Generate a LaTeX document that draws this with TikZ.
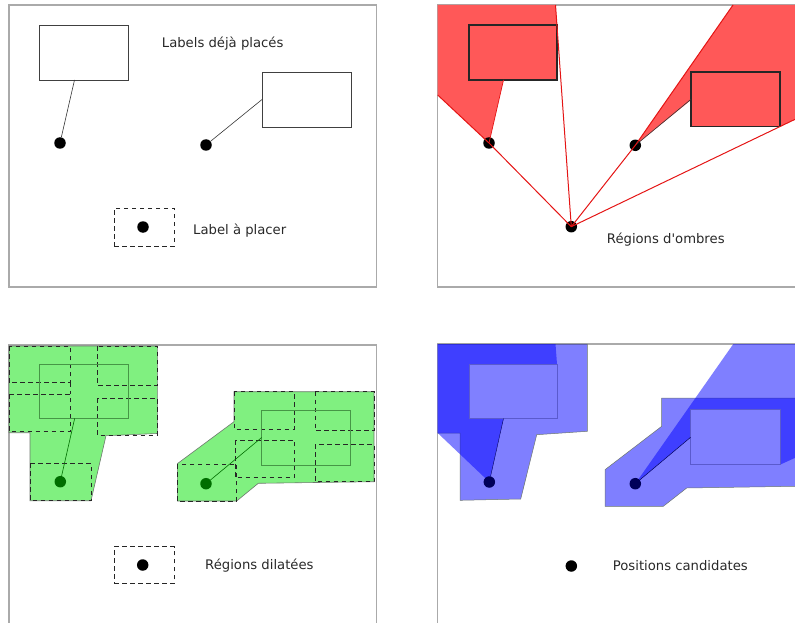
\documentclass[tikz,border=0pt]{standalone}
\usepackage{fontspec}
\setmainfont{DejaVu Sans}
\definecolor{shred}{RGB}{255,88,88}
\definecolor{rayred}{RGB}{228,20,20}
\definecolor{dilgreen}{RGB}{128,240,128}
\definecolor{dkgreen}{RGB}{0,110,0}
\definecolor{rectgreen}{RGB}{70,150,70}
\definecolor{lightblue}{RGB}{128,128,255}
\definecolor{rectblue}{RGB}{90,90,205}
\definecolor{navyd}{RGB}{0,0,90}
\definecolor{framegray}{RGB}{170,170,170}
\definecolor{txtgray}{RGB}{40,40,40}
\definecolor{edgegray}{RGB}{110,120,110}
\begin{document}
\begin{tikzpicture}[x=1pt,y=-1pt,
  frame/.style={draw=framegray, line width=1.1pt},
  boxnode/.style={rectangle, anchor=north west, inner sep=0pt, outer sep=0pt},
  plainrect/.style={boxnode, draw=black!75, line width=0.8pt, fill=white},
  redrect/.style={boxnode, draw=black!85, line width=1.3pt, fill=shred},
  greenrect/.style={boxnode, draw=rectgreen, line width=0.7pt},
  bluerect/.style={boxnode, draw=rectblue, line width=0.7pt, fill=lightblue},
  dashrect/.style={boxnode, draw=black!85, line width=1pt, dash pattern=on 4.5pt off 3.5pt},
  dashline/.style={draw=black!85, line width=1pt, dash pattern=on 4.5pt off 3.5pt},
  dotnode/.style={circle, inner sep=0pt, outer sep=0pt, minimum size=11.5pt, fill=#1},
  leader/.style={draw=black!80, line width=0.6pt},
  ray/.style={draw=rayred, line width=1pt},
  caption/.style={anchor=base west, inner sep=0pt, text=txtgray, font=\fontsize{13.2}{15}\selectfont},
  greenreg/.style={fill=dilgreen, draw=edgegray, line width=0.6pt},
  bluereg/.style={fill=blue, fill opacity=0.5, draw=none},
]
\useasboundingbox (0,0) rectangle (795,623);
\clip (0,0) rectangle (795,623);

% ---------------- Panel 1 ----------------
\draw[frame] (9,5) rectangle (376.7,287);
\node[plainrect, minimum width=89pt, minimum height=55pt] (a1) at (39.5,25) {};
\node[plainrect, minimum width=89pt, minimum height=55pt] (b1) at (262,72) {};
\node[dotnode=black] (d1a) at (60,143) {};
\node[dotnode=black] (d1b) at (206,145) {};
\coordinate (a1l) at (74.5,80);
\draw[leader] (a1l) -- (d1a);
\draw[leader] (b1.west) -- (d1b);
\node[dashrect, minimum width=60pt, minimum height=38pt] (n1) at (114,208) {};
\node[dotnode=black] (d1n) at (143,227) {};
\node[caption] (t1) at (161.7,48) {Labels déjà placés};
\node[caption] (t2) at (193,234.8) {Label à placer};

% ---------------- Panel 2 ----------------
\draw[frame] (437.7,5) rectangle (812,287);
\fill[shred] (437.7,5) -- (555.5,5) -- (557,25) -- (557,80) -- (503.5,80) -- (489,143) -- (437.7,95) -- cycle;
\fill[shred] (733,5) -- (812,5) -- (812,111.2) -- (780,126.5) -- (691,126.5) -- (691,100) -- (635.3,145.3) -- cycle;
\node[redrect, minimum width=88pt, minimum height=55pt] (a2) at (469,25) {};
\node[redrect, minimum width=89pt, minimum height=54.5pt] (b2) at (691,72) {};
\node[dotnode=black] (d2a) at (489,143) {};
\node[dotnode=black] (d2b) at (635.3,145.3) {};
\node[dotnode=black] (d2p) at (571.3,226.7) {};
\coordinate (e2a) at (437.7,95);
\coordinate (e2b) at (555.5,5);
\coordinate (e2c) at (733,5);
\coordinate (e2d) at (812,111.2);
\coordinate (a2l) at (503.5,80);
\draw[ray, line width=0.7pt] (a2l) -- (d2a.center);
\draw[leader] (b2.west) -- (d2b.center);
\draw[ray] (d2p.center) -- (d2a.center) -- (e2a);
\draw[ray] (d2p.center) -- (e2b);
\draw[ray] (d2p.center) -- (d2b.center) -- (e2c);
\draw[ray] (d2p.center) -- (e2d);
\node[caption] (t3) at (606.7,243.8) {Régions d\textquotesingle ombres};

% ---------------- Panel 3 ----------------
\draw[frame] (9,345) rectangle (376.7,640);
\draw[greenreg] (9,346) -- (157.3,346) -- (157.3,433.5) -- (106,435.7) -- (91,500.7) -- (30,500.7) -- (30,432.7) -- (9,432.7) -- cycle;
\draw[greenreg] (234,391.7) -- (374,391.7) -- (374,481.7) -- (258.3,483.3) -- (236.7,501) -- (177.3,501) -- (177.3,463.7) -- (234,421.7) -- cycle;
% dashed label positions, region 1
\draw[dashline] (9,346) rectangle (70,382.7);
\draw[dashline] (9,394.3) rectangle (70,431.7);
\draw[dashline] (70,382.7) -- (70,394.3);
\draw[dashline] (97.3,346) rectangle (157.3,385);
\draw[dashline] (97.3,398.3) rectangle (157.3,435);
\draw[dashline] (30,463.3) rectangle (91,500.7);
% dashed label positions, region 2
\draw[dashline] (234,391.7) rectangle (294.3,429);
\draw[dashline] (235,440) rectangle (294.3,477.5);
\draw[dashline] (315,391.7) rectangle (374,430.7);
\draw[dashline] (315,444.3) rectangle (374,481.7);
\draw[dashline] (177.3,464) rectangle (236.7,501);
\node[greenrect, minimum width=89.4pt, minimum height=54.3pt] (a3) at (39.3,364) {};
\node[greenrect, minimum width=89pt, minimum height=55pt] (b3) at (261.7,410) {};
\node[dotnode=dkgreen] (d3a) at (60.3,481.7) {};
\node[dotnode=dkgreen] (d3b) at (206,483.7) {};
\coordinate (a3l) at (74.7,418.3);
\draw[leader, draw=dkgreen] (a3l) -- (d3a);
\draw[leader, draw=dkgreen] (b3.west) -- (d3b);
\node[dashrect, minimum width=60pt, minimum height=36.6pt] (n3) at (114,546.7) {};
\node[dotnode=black] (d3n) at (142.7,565) {};
\node[caption] (t4) at (205,569) {Régions dilatées};

% ---------------- Panel 4 ----------------
\draw[frame] (437.7,344) rectangle (812,640);
\fill[bluereg] (437.7,344) -- (587.3,344) -- (587.3,431.3) -- (536.7,434.7) -- (520.7,499) -- (460,500.3) -- (460,433) -- (437.7,433) -- cycle;
\fill[bluereg] (661.7,398) -- (812,398) -- (812,486) -- (686.7,488) -- (663.3,506.3) -- (605,506.3) -- (605,469.7) -- (661.7,426.3) -- cycle;
\draw[edgegray, line width=0.5pt] (437.7,344) -- (587.3,344) -- (587.3,431.3) -- (536.7,434.7) -- (520.7,499) -- (460,500.3) -- (460,433) -- (437.7,433);
\draw[edgegray, line width=0.5pt] (661.7,398) -- (812,398) -- (812,486) -- (686.7,488) -- (663.3,506.3) -- (605,506.3) -- (605,469.7) -- (661.7,426.3) -- cycle;
\fill[bluereg] (437.7,344) -- (555.5,344) -- (557,364) -- (557,418.5) -- (503.5,418.5) -- (489.3,482) -- (437.7,433) -- cycle;
\fill[bluereg] (733.3,344) -- (812,344) -- (812,450.2) -- (780,464.7) -- (690.7,464.7) -- (690.7,437) -- (635.3,483.7) -- cycle;
\node[bluerect, minimum width=88pt, minimum height=54.5pt] (a4) at (469,364) {};
\node[bluerect, minimum width=89.3pt, minimum height=55pt] (b4) at (690.7,409.7) {};
\node[dotnode=navyd] (d4a) at (489.3,482) {};
\node[dotnode=navyd] (d4b) at (635.3,483.7) {};
\coordinate (a4l) at (503.5,418.5);
\draw[leader, draw=navyd, line width=0.4pt] (a4l) -- (d4a);
\draw[leader, draw=navyd, line width=0.5pt] (b4.west) -- (d4b);
\node[dotnode=black] (d4n) at (571.3,566) {};
\node[caption] (t5) at (612.7,570.5) {Positions candidates};
\end{tikzpicture}
\end{document}
